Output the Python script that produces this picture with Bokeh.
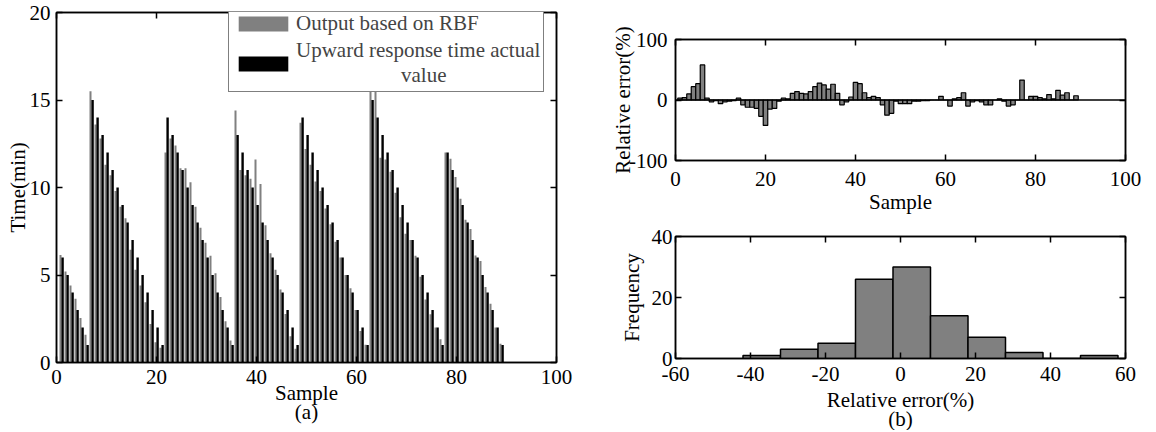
from bokeh.plotting import figure
from bokeh.models import (Range1d, FixedTicker, LinearAxis, Legend, LegendItem,
                          Title, ColumnDataSource, Span)
from bokeh.layouts import row, column
from bokeh.transform import dodge
from bokeh.embed import file_html
from bokeh.resources import INLINE

FONT = "Liberation Serif"
FS = "21px"

# ---------------- data ----------------
samples = list(range(1, 90))

actual_time = [6, 5, 4, 3, 2, 1,
               15, 14, 13, 12, 11, 10, 9, 8, 7, 6, 5, 4, 3, 2, 1,
               14, 13, 12, 11, 10, 9, 8, 7, 6, 5, 4, 3, 2, 1,
               13, 12, 11, 10, 9, 8, 7, 6, 5, 4, 3, 2, 1,
               14, 13, 12, 11, 10, 9, 8, 7, 6, 5, 4, 3, 2, 1,
               15, 14, 13, 12, 11, 10, 9, 8, 7, 6, 5, 4, 3, 2, 1,
               12, 11, 10, 9, 8, 7, 6, 5, 4, 3, 2, 1]

rbf_output = [6.15, 5.2, 4.4, 3.65, 2.55, 1.58,
              15.5, 13.6, 12.8, 11.3, 10.7, 9.8, 8.9, 8.25, 6.45, 5.3, 4.4, 3.45, 2.2, 1.16, 0.85,
              12.0, 12.8, 12.4, 11.1, 11.1, 10.3, 8.9, 7.7, 6.85, 6.1, 5.1, 3.75, 2.36, 1.26,
              14.4, 11.0, 10.7, 10.5, 11.6, 10.2, 7.85, 6.25, 5.3, 4.17, 2.77, 1.5, 0.78,
              13.7, 12.2, 11.3, 10.35, 9.8, 8.8, 7.9, 6.9, 6.0, 5.0, 4.24, 3.0, 1.8, 1.02,
              15.6, 15.7, 11.7, 11.6, 10.9, 9.7, 8.3, 7.36, 7.0, 6.1, 4.9, 3.6, 2.76, 2.0, 1.33,
              12.0, 11.65, 10.6, 9.36, 8.16, 7.63, 6.12, 5.8, 4.32, 3.36, 2.0, 1.07]

relative_error = [3, 4, 10, 22, 27, 58,
                  3, -3, -1, -6, -3, -2, -1, 3, -8, -12, -12, -14, -27, -42, -15,
                  -14, -2, 3, 2, 11, 14, 11, 10, 14, 22, 28, 25, 18, 26,
                  11, -8, -3, 5, 29, 27, 12, 4, 6, 4, -8, -25, -22,
                  -2, -6, -6, -6, -2, -2, -1, -1, 0, 0, 6, 0, -10, 2,
                  4, 12, -10, -3, -1, -3, -8, -8, 0, 2, -2, -10, -8, 0, 33,
                  0, 6, 6, 4, 2, 9, 2, 16, 8, 12, 0, 7]

hist_edges = [-42, -32, -22, -12, -2, 8, 18, 28, 38, 48, 58]
hist_counts = [1, 3, 5, 26, 30, 14, 7, 2, 0, 1]

ticks_sample = [0, 20, 40, 60, 80, 100]
ticks_time = [0, 5, 10, 15, 20]
ticks_err = [-100, 0, 100]
ticks_relerr = [-60, -40, -20, 0, 20, 40, 60]
ticks_freq = [0, 20, 40]

GRAY = "#808080"
NBSP = "\u00a0"


def style_axis(ax, ticks, standoff, label_standoff):
    ax.ticker = FixedTicker(ticks=ticks)
    ax.major_label_overrides = {t: str(t) for t in ticks}
    ax.axis_line_color = "black"
    ax.axis_line_width = 1.5
    ax.major_tick_in = 6
    ax.major_tick_out = 0
    ax.minor_tick_in = 0
    ax.minor_tick_out = 0
    ax.major_tick_line_color = "black"
    ax.major_tick_line_width = 1.5
    ax.major_label_text_font = FONT
    ax.major_label_text_font_size = FS
    ax.major_label_text_color = "black"
    ax.major_label_standoff = standoff
    ax.axis_label_text_font = FONT
    ax.axis_label_text_font_size = FS
    ax.axis_label_text_font_style = "normal"
    ax.axis_label_text_color = "black"
    ax.axis_label_standoff = label_standoff


def mirror(p, ticks, place):
    ax = LinearAxis(ticker=FixedTicker(ticks=ticks))
    ax.axis_line_color = "black"
    ax.axis_line_width = 1.5
    ax.major_tick_in = 6
    ax.major_tick_out = 0
    ax.minor_tick_in = 0
    ax.minor_tick_out = 0
    ax.major_tick_line_width = 1.5
    ax.major_label_text_font_size = "1px"
    ax.major_label_text_color = None
    ax.major_label_standoff = 0
    p.add_layout(ax, place)


def base_fig(fw, fh, xr, yr, bl, br, bt, bb):
    p = figure(frame_width=fw, frame_height=fh, x_range=xr, y_range=yr,
               output_backend="svg", toolbar_location=None,
               min_border_left=bl, min_border_right=br,
               min_border_top=bt, min_border_bottom=bb)
    p.xgrid.visible = False
    p.ygrid.visible = False
    p.outline_line_color = "black"
    p.outline_line_width = 1.5
    p.background_fill_color = "white"
    p.border_fill_color = "white"
    return p


def caption(p, text, standoff):
    p.add_layout(Title(text=text, align="center", text_font=FONT, text_font_size=FS,
                       text_font_style="normal", text_color="black",
                       standoff=standoff), "below")


# ---------------- (a) ----------------
src_a = ColumnDataSource(dict(sample=samples, rbf=rbf_output, actual=actual_time))
pa = base_fig(500, 350, Range1d(0, 100), Range1d(0, 20), 56, 44, 12, 68)
r_rbf = pa.vbar(x=dodge("sample", -0.2, range=pa.x_range), top="rbf", width=0.4,
                source=src_a, fill_color=GRAY, line_color=None)
r_act = pa.vbar(x=dodge("sample", 0.22, range=pa.x_range), top="actual", width=0.48,
                source=src_a, fill_color="black", line_color=None)
pa.xaxis.axis_label = "Sample"
pa.yaxis.axis_label = "Time(min)"
style_axis(pa.xaxis[0], ticks_sample, 7, -6)
style_axis(pa.yaxis[0], ticks_time, 6, -3)
mirror(pa, ticks_time, "right")
mirror(pa, ticks_sample, "above")
caption(pa, "(a)", -20)

legend = Legend(items=[LegendItem(label="Output based on RBF", renderers=[r_rbf]),
                       LegendItem(label="Upward response time actual\n" + NBSP * 20 + "value",
                                  renderers=[r_act])],
                location=(172, 270), label_text_font=FONT, label_text_font_size=FS,
                glyph_width=62, glyph_height=19, label_standoff=2, padding=3, spacing=2,
                label_height=19,
                border_line_color="black", border_line_width=1.5,
                background_fill_color="white", background_fill_alpha=1.0, margin=0)
pa.add_layout(legend)

# ---------------- (b) top ----------------
src_e = ColumnDataSource(dict(sample=samples, err=relative_error))
pe = base_fig(450, 121, Range1d(0, 100), Range1d(-100, 100), 75, 23, 39, 60)
pe.vbar(x="sample", top="err", bottom=0, width=1.0, source=src_e,
        fill_color=GRAY, line_color="black", line_width=1.2)
pe.add_layout(Span(location=0, dimension="width", line_color="black", line_width=1.5))
pe.xaxis.axis_label = "Sample"
pe.yaxis.axis_label = "Relative error(%)"
style_axis(pe.xaxis[0], ticks_sample, 11, 1)
style_axis(pe.yaxis[0], ticks_err, 8, -9)
mirror(pe, ticks_sample, "above")
mirror(pe, ticks_err, "right")

# ---------------- (b) bottom ----------------
src_h = ColumnDataSource(dict(left=hist_edges[:-1], right=hist_edges[1:], count=hist_counts))
ph = base_fig(450, 122, Range1d(-60, 60), Range1d(0, 40), 75, 23, 16, 72)
ph.quad(left="left", right="right", top="count", bottom=0, source=src_h,
        fill_color=GRAY, line_color="black", line_width=1.5)
ph.xaxis.axis_label = "Relative error(%)"
ph.yaxis.axis_label = "Frequency"
style_axis(ph.xaxis[0], ticks_relerr, 8, 4)
style_axis(ph.yaxis[0], ticks_freq, 3, 5)
mirror(ph, ticks_relerr, "above")
mirror(ph, ticks_freq, "right")
caption(ph, "(b)", -20)

layout = row(pa, column(pe, ph))
open("out.html", "w").write(file_html(layout, INLINE))
